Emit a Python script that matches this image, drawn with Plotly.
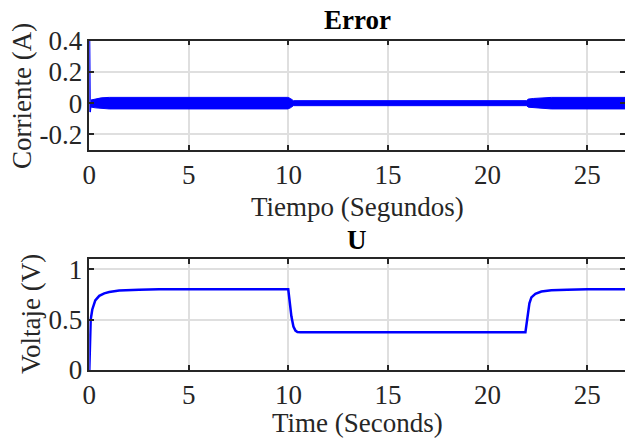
import plotly.graph_objects as go

# ---- data ----
# Error (current): initial spike
t_spike = [0.0, 0.0, 0.03, 0.08]
i_spike = [0.0, 0.4, -0.057, 0.0]
# Error oscillation envelope (dense oscillation drawn as band)
t_env = [0.08, 0.3, 0.6, 1.0, 9.97, 10.1, 10.25, 21.95, 22.05, 22.3, 22.7, 23.2, 26.9]
i_upper = [0.02, 0.028, 0.034, 0.037, 0.037, 0.03, 0.016, 0.016, 0.026, 0.03, 0.034, 0.037, 0.037]
i_lower = [-0.025, -0.03, -0.035, -0.037, -0.037, -0.03, -0.016, -0.016, -0.026, -0.03, -0.034, -0.037, -0.037]

# Control signal U
t_u = [0, 0.03, 0.07, 0.15, 0.3, 0.5, 0.75, 1.0, 1.5, 2.5, 3.5, 9.99, 10.15, 10.25,
       10.35, 10.45, 10.6, 21.9, 21.95, 22.0, 22.1, 22.2, 22.4, 22.7, 23.2, 24.0, 25.0, 26.9]
u = [0, 0.3, 0.5, 0.6, 0.69, 0.735, 0.76, 0.772, 0.787, 0.796, 0.8, 0.8, 0.53, 0.43,
     0.39, 0.377, 0.375, 0.375, 0.45, 0.56, 0.66, 0.72, 0.755, 0.778, 0.79, 0.796, 0.8, 0.8]

x_ticks = [0, 5, 10, 15, 20, 25]
y1_ticks = [0.4, 0.2, 0, -0.2]
y1_text = ["0.4", "0.2", "0", "-0.2"]
y2_ticks = [1, 0.5, 0]
y2_text = ["1", "0.5", "0"]

FONT = "Liberation Serif"
BLUE = "#0000ff"
FS = 27

fig = go.Figure()
fig.add_trace(go.Scatter(x=t_env + t_env[::-1], y=i_upper + i_lower[::-1],
                         fill="toself", fillcolor=BLUE, mode="lines",
                         line=dict(color=BLUE, width=1), xaxis="x", yaxis="y",
                         showlegend=False, hoverinfo="skip"))
fig.add_trace(go.Scatter(x=t_spike, y=i_spike, mode="lines",
                         line=dict(color=BLUE, width=2), xaxis="x", yaxis="y", showlegend=False))
fig.add_trace(go.Scatter(x=t_u, y=u, mode="lines", line=dict(color=BLUE, width=2.5),
                         xaxis="x2", yaxis="y2", showlegend=False))

axis_common = dict(showline=True, linecolor="#262626", linewidth=1.5, mirror="allticks",
                   ticks="inside", ticklen=5, tickwidth=1.5, tickcolor="#262626",
                   showgrid=True, gridcolor="#dfdfdf", gridwidth=1.5, zeroline=False,
                   automargin=False,
                   tickfont=dict(family=FONT, size=FS, color="#262626"))

xdom = [89.3 / 625, 1.0]
fig.update_layout(
    width=625, height=441, margin=dict(l=0, r=0, t=0, b=0),
    paper_bgcolor="white", plot_bgcolor="white",
    xaxis=dict(domain=xdom, range=[0, 26.9], tickvals=x_ticks, anchor="y", **axis_common),
    yaxis=dict(domain=[(441 - 150) / 441, (441 - 40.7) / 441], range=[-0.3, 0.4],
               tickvals=y1_ticks, ticktext=y1_text, anchor="x", **axis_common),
    xaxis2=dict(domain=xdom, range=[0, 26.9], tickvals=x_ticks, anchor="y2", **axis_common),
    yaxis2=dict(domain=[(441 - 370) / 441, (441 - 259) / 441], range=[0, 1.1],
                tickvals=y2_ticks, ticktext=y2_text, anchor="x2", **axis_common),
)

def ann(text, x, y, size=FS, bold=False, angle=0):
    fig.add_annotation(text=f"<b>{text}</b>" if bold else text, x=x, y=y,
                       xref="paper", yref="paper", xanchor="center", yanchor="middle",
                       showarrow=False, textangle=angle,
                       font=dict(family=FONT, size=size, color="#000000" if bold else "#262626"))

ann("Error", 357 / 625, 1 - 20 / 441, bold=True)
ann("U", 357 / 625, 1 - 240 / 441, bold=True)
ann("Tiempo (Segundos)", 357 / 625, 1 - 207 / 441)
ann("Time (Seconds)", 357 / 625, 1 - 423 / 441)
ann("Corriente (A)", 22 / 625, 1 - 96 / 441, angle=-90)
ann("Voltaje (V)", 31 / 625, 1 - 314 / 441, angle=-90)

fig.write_html("out.html")
